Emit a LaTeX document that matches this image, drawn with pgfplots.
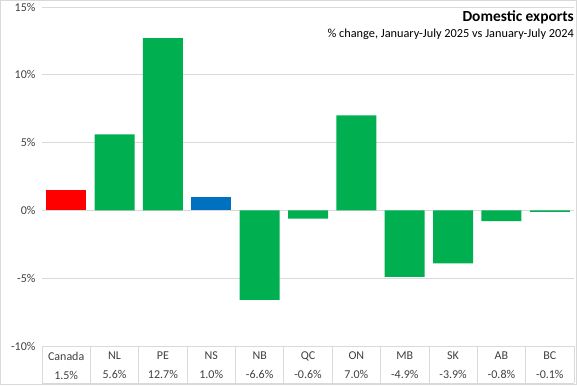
\documentclass[border=0pt]{standalone}
\usepackage{fontspec}
\setmainfont{Carlito}
\usepackage{pgfplots}
\pgfplotsset{compat=1.18}
\definecolor{gridc}{RGB}{217,217,217}
\definecolor{bargreen}{RGB}{0,176,80}
\definecolor{barblue}{RGB}{0,112,192}
\definecolor{barred}{RGB}{255,0,0}
\definecolor{txt}{RGB}{64,64,64}
\begin{document}
\begin{tikzpicture}[x=1pt,y=1pt]
\path[use as bounding box] (0,0) rectangle (577,385);
\draw[gridc] (0.5,0.5) rectangle (576.5,384.5);
\begin{axis}[
  at={(42pt,39pt)}, anchor=south west, scale only axis,
  width=532pt, height=339pt,
  xmin=-0.5, xmax=10.5, ymin=-10, ymax=15,
  ytick={-10,-5,0,5,10,15},
  yticklabel={\pgfmathprintnumber{\tick}\%},
  /pgf/number format/assume math mode=true,
  ymajorgrids, major grid style={gridc, line width=0.8pt},
  axis line style={draw=none}, tick style={draw=none},
  xtick={0,...,10},
  xticklabels={{Canada\\1.5\%},{NL\\5.6\%},{PE\\12.7\%},{NS\\1.0\%},{NB\\-6.6\%},{QC\\-0.6\%},{ON\\7.0\%},{MB\\-4.9\%},{SK\\-3.9\%},{AB\\-0.8\%},{BC\\-0.1\%}},
  xticklabel style={align=center, font=\fontsize{12}{19}\selectfont, text=txt, yshift=2pt},
  yticklabel style={font=\fontsize{12}{14}\selectfont, text=txt, xshift=-3pt},
  ybar, bar width=40pt,
  clip=false,
]
\addplot[fill=barred, draw=none, bar shift=0pt] coordinates {(0,1.5)};
\addplot[fill=bargreen, draw=none, bar shift=0pt] coordinates {(1,5.6) (2,12.7) (4,-6.6) (5,-0.6) (6,7.0) (7,-4.9) (8,-3.9) (9,-0.8) (10,-0.1)};
\addplot[fill=barblue, draw=none, bar shift=0pt] coordinates {(3,1.0)};
\end{axis}
\foreach \i in {0,...,11} {
  \draw[gridc, line width=0.8pt] ({42+\i*48.3636},39) -- ({42+\i*48.3636},2);
}
\draw[gridc, line width=0.8pt] (42,2) -- (574,2);
\node[anchor=base east, font=\bfseries\fontsize{15.4}{18}\selectfont, inner sep=0] at (574,363) {Domestic exports};
\node[anchor=base east, font=\fontsize{12.3}{14}\selectfont, inner sep=0] at (574,347) {\% change, January-July 2025 vs January-July 2024};
\end{tikzpicture}
\end{document}
